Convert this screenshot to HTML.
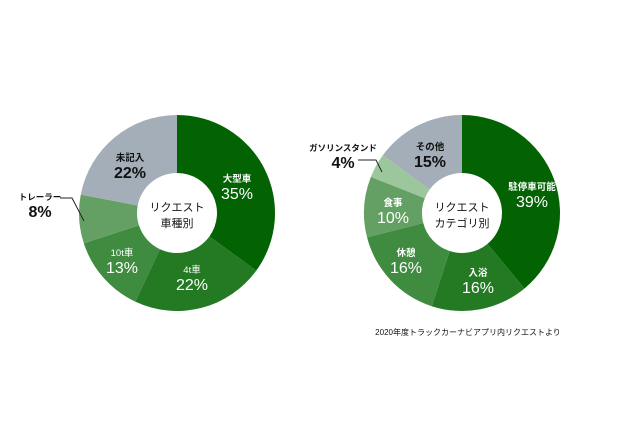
<!DOCTYPE html>
<html><head><meta charset="utf-8"><style>
body{margin:0;background:#fff;width:635px;height:426px;overflow:hidden}
svg text{font-family:"Liberation Sans","Noto Sans CJK JP",sans-serif;text-anchor:middle}
.b{font-weight:bold}
.n{font-weight:normal}
</style></head><body>
<svg id="s" width="635" height="426" xmlns="http://www.w3.org/2000/svg">
<g id="g"></g>
<g fill="#fff">
<text class="b" x="237" y="182" font-size="9.5">大型車</text><text class="n" x="237" y="199" font-size="16">35%</text>
<text class="n" x="192" y="273" font-size="9.5">4t車</text><text class="n" x="192" y="290" font-size="16">22%</text>
<text class="n" x="122" y="256" font-size="9.5">10t車</text><text class="n" x="122" y="273" font-size="16">13%</text>
<text class="b" x="532" y="190" font-size="9.5">駐停車可能</text><text class="n" x="532" y="207" font-size="16">39%</text>
<text class="b" x="478" y="276" font-size="9.5">入浴</text><text class="n" x="478" y="293" font-size="16">16%</text>
<text class="b" x="406" y="256" font-size="9.5">休憩</text><text class="n" x="406" y="273" font-size="16">16%</text>
<text class="b" x="393" y="206" font-size="9.5">食事</text><text class="n" x="393" y="223" font-size="16">10%</text>
</g>
<g fill="#111">
<text class="b" x="130" y="161" font-size="9.5">未記入</text><text class="b" x="130" y="178" font-size="16">22%</text>
<text class="b" x="430" y="150" font-size="9.5">その他</text><text class="b" x="430" y="167" font-size="16">15%</text>
<text class="n" x="177" y="211" font-size="11">リクエスト</text><text class="n" x="177" y="227" font-size="11">車種別</text>
<text class="n" x="462" y="211" font-size="11">リクエスト</text><text class="n" x="462" y="227" font-size="11">カテゴリ別</text>
<text class="b" x="40" y="200" font-size="8.5">トレーラー</text><text class="b" x="40" y="217" font-size="16">8%</text>
<text class="b" x="343" y="151" font-size="8.5">ガソリンスタンド</text><text class="b" x="343" y="168" font-size="16">4%</text>
<text class="n" x="468" y="335" font-size="8">2020年度トラックカーナビアプリ内リクエストより</text>
</g>
<g stroke="#222" stroke-width="1" fill="none">
<polyline points="60,198 72,198 84,221"/>
<polyline points="358,160 376,160 382,172"/>
</g>
</svg>
<script>
function donut(cx,cy,R,r,vals,cols){var g=document.getElementById('g'),a=-Math.PI/2,t=vals.reduce((x,y)=>x+y,0),h='';
vals.forEach(function(v,i){var b=a+v/t*2*Math.PI,l=(b-a)>Math.PI?1:0;
function p(rr,an){return (cx+rr*Math.cos(an)).toFixed(2)+','+(cy+rr*Math.sin(an)).toFixed(2)}
h+='<path fill="'+cols[i]+'" d="M'+p(R,a)+' A'+R+','+R+' 0 '+l+' 1 '+p(R,b)+' L'+p(r,b)+' A'+r+','+r+' 0 '+l+' 0 '+p(r,a)+'Z"/>';a=b;});
g.innerHTML+=h;}
donut(177,213,98,40,[35,22,13,8,22],['#036303','#237a23','#3f8b3f','#64a064','#a3aeb8']);
donut(462,213,98,40,[39,16,16,10,4,15],['#036303','#237a23','#3f8b3f','#64a064','#9cc79c','#a3aeb8']);
</script>
</body></html>
